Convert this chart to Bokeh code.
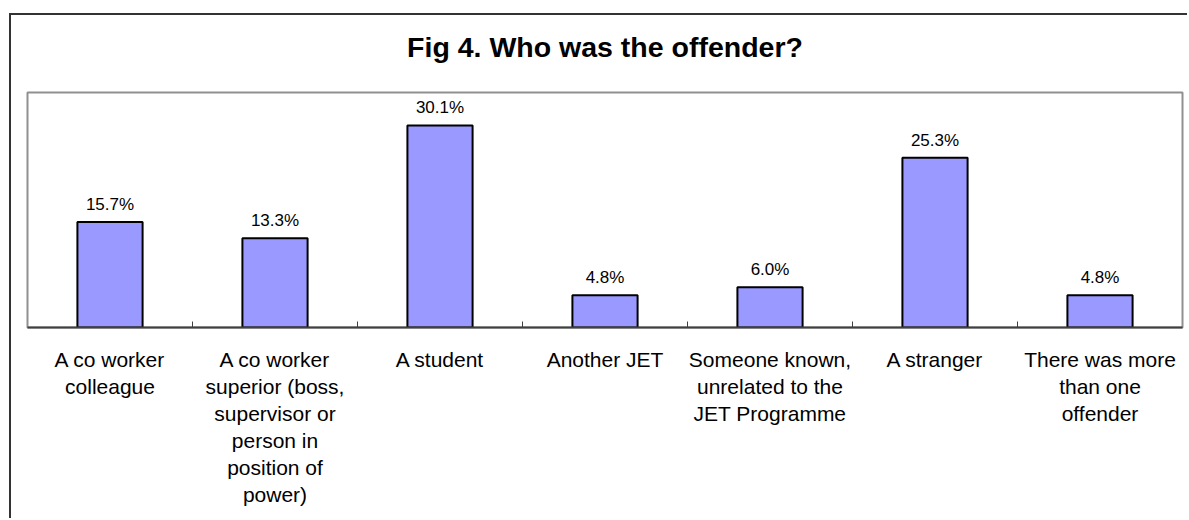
from bokeh.plotting import figure
from bokeh.models import ColumnDataSource, FixedTicker, LinearAxis, LabelSet, Range1d
from bokeh.core.properties import value
from bokeh.embed import file_html
from bokeh.resources import INLINE

categories = [
    "A co worker\ncolleague",
    "A co worker\nsuperior (boss,\nsupervisor or\nperson in\nposition of\npower)",
    "A student",
    "Another JET",
    "Someone known,\nunrelated to the\nJET Programme",
    "A stranger",
    "There was more\nthan one\noffender",
]
values = [15.7, 13.3, 30.1, 4.8, 6.0, 25.3, 4.8]
value_labels = ["15.7%", "13.3%", "30.1%", "4.8%", "6.0%", "25.3%", "4.8%"]
title_text = "Fig 4. Who was the offender?"

positions = list(range(len(categories)))
source = ColumnDataSource(dict(x=positions, top=values, label=value_labels))

y_max = 35
p = figure(
    width=1178, height=505,
    x_range=Range1d(-0.5, len(categories) - 0.5),
    y_range=Range1d(0, y_max),
    output_backend="svg", toolbar_location=None,
    min_border_left=16, min_border_right=7, min_border_top=77, min_border_bottom=193,
    background_fill_color="white", border_fill_color="white",
)
p.margin = (13, 0, 0, 9)
p.styles = {"border-left": "2px solid #333333", "border-top": "2px solid #333333"}

p.outline_line_color = "#909090"
p.outline_line_width = 2
p.grid.visible = False
p.yaxis.visible = False

# bottom axis: baseline with short inward ticks between categories
ax = p.below[0]
ax.ticker = FixedTicker(ticks=[i + 0.5 for i in positions[:-1]])
ax.major_tick_in = 6
ax.major_tick_out = 0
ax.minor_tick_line_color = None
ax.axis_line_color = "#404040"
ax.axis_line_width = 2
ax.major_tick_line_color = "#404040"
ax.major_tick_line_width = 1
ax.major_label_text_font_size = "1px"
ax.major_label_text_alpha = 0
ax.major_label_standoff = 0

# second bottom axis carrying the category labels
ax2 = LinearAxis(ticker=FixedTicker(ticks=positions),
                 major_label_overrides={i: c for i, c in zip(positions, categories)})
ax2.axis_line_color = None
ax2.major_tick_line_color = None
ax2.minor_tick_line_color = None
ax2.major_label_standoff = 14
ax2.major_label_text_font = "Liberation Sans"
ax2.major_label_text_font_size = "21px"
ax2.major_label_text_line_height = 1.18
ax2.major_label_text_color = "black"
p.add_layout(ax2, "below")

# title drawn as the label of a bare axis above the frame
top_axis = LinearAxis(ticker=FixedTicker(ticks=[]), axis_label=title_text)
top_axis.axis_line_color = None
top_axis.major_tick_line_color = None
top_axis.minor_tick_line_color = None
top_axis.major_tick_in = 0
top_axis.major_tick_out = 0
top_axis.major_label_text_font_size = "1px"
top_axis.major_label_standoff = 0
top_axis.axis_label_standoff = 30
top_axis.axis_label_text_font = "Liberation Sans"
top_axis.axis_label_text_font_size = "28.5px"
top_axis.axis_label_text_font_style = "bold"
top_axis.axis_label_text_color = "black"
p.add_layout(top_axis, "above")

p.vbar(x="x", top="top", width=0.395, source=source,
       fill_color="#9999FF", line_color="black", line_width=2)

labels = LabelSet(x="x", y="top", text="label", source=source,
                  y_offset=12, text_align="center", text_baseline="alphabetic",
                  text_font=value("Liberation Sans"), text_font_size="17px",
                  text_color="black")
p.add_layout(labels)

open("out.html", "w").write(file_html(p, INLINE))
